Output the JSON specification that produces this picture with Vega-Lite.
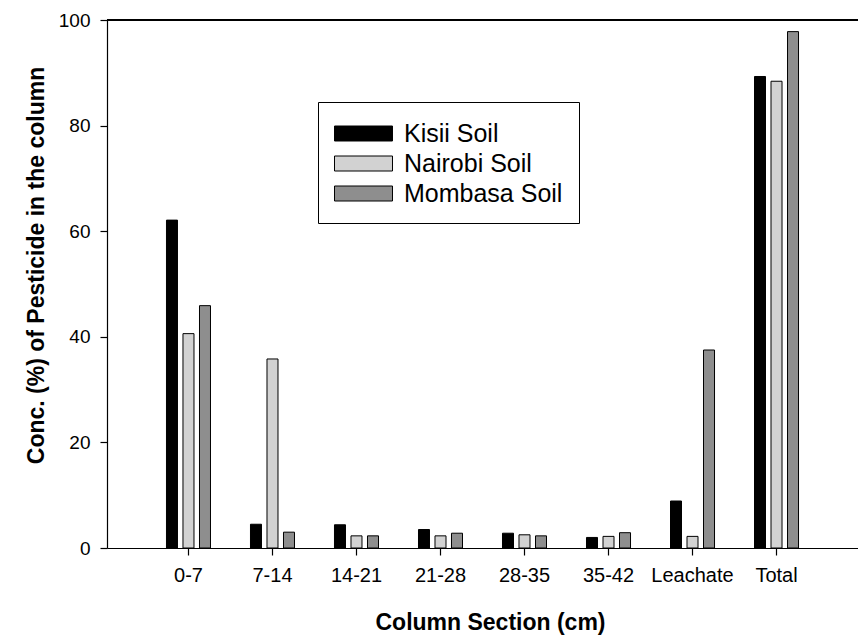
{
  "$schema": "https://vega.github.io/schema/vega-lite/v6.json",
  "width": 751,
  "height": 528,
  "autosize": "none",
  "padding": {"left": 107, "top": 20, "right": 0, "bottom": 89},
  "background": "white",
  "config": {
    "view": {"stroke": null},
    "font": "Liberation Sans",
    "axis": {
      "domainColor": "black",
      "domainWidth": 1.2,
      "tickColor": "black",
      "tickWidth": 1.2,
      "tickSize": 7,
      "labelColor": "black",
      "titleColor": "black",
      "labelFont": "Liberation Sans",
      "titleFont": "Liberation Sans",
      "titleFontWeight": "bold",
      "titleFontSize": 23,
      "grid": false
    }
  },
  "data": {
    "values": [
      {"section": "0-7", "soil": "Kisii Soil", "value": 62.1},
      {"section": "0-7", "soil": "Nairobi Soil", "value": 40.6},
      {"section": "0-7", "soil": "Mombasa Soil", "value": 45.9},
      {"section": "7-14", "soil": "Kisii Soil", "value": 4.5},
      {"section": "7-14", "soil": "Nairobi Soil", "value": 35.8},
      {"section": "7-14", "soil": "Mombasa Soil", "value": 3.0},
      {"section": "14-21", "soil": "Kisii Soil", "value": 4.4},
      {"section": "14-21", "soil": "Nairobi Soil", "value": 2.3},
      {"section": "14-21", "soil": "Mombasa Soil", "value": 2.3},
      {"section": "21-28", "soil": "Kisii Soil", "value": 3.5},
      {"section": "21-28", "soil": "Nairobi Soil", "value": 2.3},
      {"section": "21-28", "soil": "Mombasa Soil", "value": 2.8},
      {"section": "28-35", "soil": "Kisii Soil", "value": 2.8},
      {"section": "28-35", "soil": "Nairobi Soil", "value": 2.5},
      {"section": "28-35", "soil": "Mombasa Soil", "value": 2.3},
      {"section": "35-42", "soil": "Kisii Soil", "value": 2.0},
      {"section": "35-42", "soil": "Nairobi Soil", "value": 2.2},
      {"section": "35-42", "soil": "Mombasa Soil", "value": 2.9},
      {"section": "Leachate", "soil": "Kisii Soil", "value": 8.9},
      {"section": "Leachate", "soil": "Nairobi Soil", "value": 2.2},
      {"section": "Leachate", "soil": "Mombasa Soil", "value": 37.5},
      {"section": "Total", "soil": "Kisii Soil", "value": 89.3},
      {"section": "Total", "soil": "Nairobi Soil", "value": 88.4},
      {"section": "Total", "soil": "Mombasa Soil", "value": 97.8}
    ]
  },
  "layer": [
    {
      "mark": {"type": "bar", "stroke": "black", "strokeWidth": 1},
      "encoding": {
        "x": {
          "field": "section",
          "type": "nominal",
          "sort": ["0-7", "7-14", "14-21", "21-28", "28-35", "35-42", "Leachate", "Total"],
          "scale": {"paddingInner": 0.476, "paddingOuter": 0.708},
          "title": "Column Section (cm)",
          "axis": {
            "labelAngle": 0,
            "labelFontSize": 20,
            "labelPadding": 10,
            "titleX": 383,
            "titleY": 74,
            "titleBaseline": "middle"
          }
        },
        "xOffset": {
          "field": "soil",
          "type": "nominal",
          "sort": ["Kisii Soil", "Nairobi Soil", "Mombasa Soil"],
          "scale": {"paddingInner": 0.333, "paddingOuter": 0}
        },
        "y": {
          "field": "value",
          "type": "quantitative",
          "scale": {"domain": [0, 100], "nice": false},
          "title": "Conc. (%) of Pesticide in the column",
          "axis": {
            "values": [0, 20, 40, 60, 80, 100],
            "labelFontSize": 19,
            "labelPadding": 10,
            "titleX": -71,
            "titleY": 245,
            "titleAngle": -90,
            "titleAlign": "center",
            "titleBaseline": "middle"
          }
        },
        "color": {
          "field": "soil",
          "type": "nominal",
          "sort": ["Kisii Soil", "Nairobi Soil", "Mombasa Soil"],
          "scale": {
            "domain": ["Kisii Soil", "Nairobi Soil", "Mombasa Soil"],
            "range": ["#000000", "#d2d2d2", "#8e8e8e"]
          },
          "legend": {
            "title": null,
            "orient": "none",
            "legendX": 211,
            "legendY": 82,
            "strokeColor": "black",
            "fillColor": "white",
            "padding": 16,
            "symbolType": "M-1.933,-0.5L1.933,-0.5L1.933,0.5L-1.933,0.5Z",
            "symbolSize": 900,
            "symbolOffset": 14,
            "symbolStrokeColor": "black",
            "symbolStrokeWidth": 1,
            "symbolOpacity": 1,
            "labelFontSize": 25,
            "labelColor": "black",
            "labelFont": "Liberation Sans",
            "labelOffset": 25,
            "rowPadding": 1
          }
        }
      }
    },
    {
      "mark": {"type": "rule", "color": "black", "strokeWidth": 1.2},
      "encoding": {"y": {"datum": 100}}
    }
  ]
}
